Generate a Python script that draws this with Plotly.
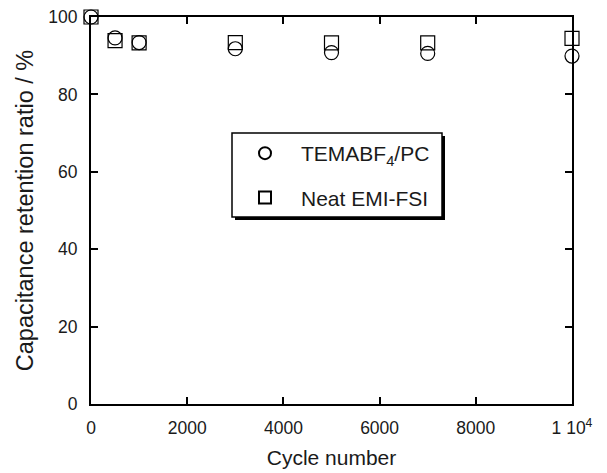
import plotly.graph_objects as go

cycles = [0, 500, 1000, 3000, 5000, 7000, 10000]
temabf4_pc = [100, 94.6, 93.4, 91.8, 90.8, 90.6, 89.9]
neat_emi_fsi = [100, 93.9, 93.3, 93.4, 93.3, 93.3, 94.5]
x_tickvals = [0, 2000, 4000, 6000, 8000, 10000]
x_ticktext = ["0", "2000", "4000", "6000", "8000", "1 10<sup>4</sup>"]
y_tickvals = [0, 20, 40, 60, 80, 100]

W, H = 607, 473
L, R, T, B = 91, 35, 17, 69
pw, ph = W - L - R, H - T - B

def px_x(p):
    return (p - L) / pw

def px_y(p):
    return (H - B - p) / ph

FAM = "Liberation Sans, Arial, sans-serif"

fig = go.Figure()
fig.add_trace(go.Scatter(
    x=cycles, y=temabf4_pc, mode="markers", name="TEMABF<sub>4</sub>/PC",
    legendgroup="a", cliponaxis=False,
    marker=dict(symbol="circle-open", size=14, color="black", line=dict(width=1.2, color="black"))))
fig.add_trace(go.Scatter(
    x=cycles, y=neat_emi_fsi, mode="markers", name="Neat EMI-FSI",
    legendgroup="b", cliponaxis=False,
    marker=dict(symbol="square-open", size=14, color="black", line=dict(width=1.2, color="black"))))

# legend box with shadow
fig.add_shape(type="rect", xref="paper", yref="paper", layer="above",
              x0=px_x(235), x1=px_x(445), y0=px_y(220), y1=px_y(136),
              fillcolor="black", line=dict(width=0))
fig.add_shape(type="rect", xref="paper", yref="paper", layer="above",
              x0=px_x(232), x1=px_x(442), y0=px_y(217), y1=px_y(133),
              fillcolor="white", line=dict(width=1.5, color="black"))

fig.update_layout(
    width=W, height=H,
    margin=dict(l=L, r=R, t=T, b=B, autoexpand=False),
    paper_bgcolor="white", plot_bgcolor="white",
    font=dict(family=FAM, size=17.5, color="#1a1a1a"),
    showlegend=True,
    legend=dict(x=px_x(229), y=px_y(133), xanchor="left", yanchor="top",
                bgcolor="rgba(0,0,0,0)", borderwidth=0,
                font=dict(family=FAM, size=21, color="#1a1a1a"),
                tracegroupgap=14, itemsizing="constant", itemwidth=62),
    xaxis=dict(range=[0, 10000], tickvals=x_tickvals, ticktext=x_ticktext,
               ticks="inside", ticklen=7, tickwidth=2, tickcolor="black",
               showline=True, linewidth=2, linecolor="black", mirror="ticks",
               showgrid=False, zeroline=False, ticklabelstandoff=7, automargin=False,
               title=dict(text="Cycle number", font=dict(size=21), standoff=13)),
    yaxis=dict(range=[0, 100], tickvals=y_tickvals,
               ticks="inside", ticklen=7, tickwidth=2, tickcolor="black",
               showline=True, linewidth=2, linecolor="black", mirror="ticks",
               showgrid=False, zeroline=False, ticklabelstandoff=8, automargin=False,
               title=dict(text="Capacitance retention ratio / %", font=dict(size=23.5), standoff=8)),
)

fig.write_html("out.html")
